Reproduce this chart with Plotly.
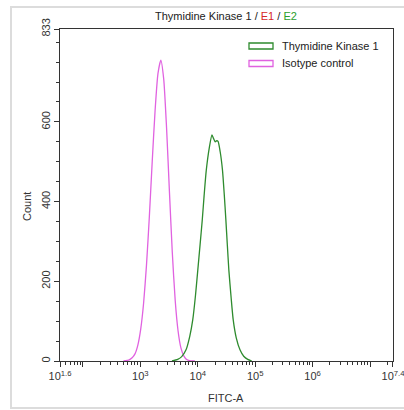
import plotly.graph_objects as go

# ---- data (x as log10 of FITC-A, y as Count) ----
iso_log = [2.706, 2.806, 2.856, 2.906, 2.956, 3.006, 3.056, 3.106, 3.156, 3.206,
           3.256, 3.306, 3.356, 3.406, 3.456, 3.506, 3.556, 3.606, 3.656, 3.706,
           3.756, 3.806, 3.856, 3.906, 3.95]
iso_count = [0, 3, 8, 18, 40, 80, 145, 240, 362, 500,
             628, 721, 755, 708, 585, 425, 272, 153, 76, 33,
             13, 4, 1, 0, 0]

tk_log = [3.55, 3.65, 3.72, 3.795, 3.86, 3.912, 3.96, 4.0, 4.04, 4.078,
          4.11, 4.148, 4.2, 4.247, 4.275, 4.303, 4.33, 4.353, 4.39, 4.43,
          4.46, 4.489, 4.515, 4.541, 4.58, 4.617, 4.67, 4.735, 4.80, 4.87, 4.94]
tk_count = [0, 4, 11, 28, 62, 103, 165, 228, 292, 354,
            415, 479, 535, 567, 558, 550, 553, 551, 525, 479,
            420, 354, 290, 228, 160, 103, 58, 28, 12, 4, 0]

series_names = ["Thymidine Kinase 1", "Isotype control"]
x_tick_exp = [1.6001, 2, 3, 4, 5, 6, 7, 7.3999]
x_tick_text = ["10<sup>1.6</sup>", "", "10<sup>3</sup>", "10<sup>4</sup>",
               "10<sup>5</sup>", "10<sup>6</sup>", "", "10<sup>7.4</sup>"]
y_tick_vals = [0, 200, 400, 600, 833]

GREEN = "#2e8b2e"
MAGENTA = "#e062e0"
FONT = "Liberation Sans, Arial, sans-serif"

W, H = 404, 410
L, R, T, B = 60, 393, 29, 361  # plot area pixels


def px(x):
    return (x - L) / (R - L)


def py(y):
    return (B - y) / (B - T)


fig = go.Figure()
fig.add_trace(go.Scatter(x=[10 ** v for v in iso_log], y=iso_count, mode="lines",
                         line=dict(color=MAGENTA, width=1.3, shape="spline", smoothing=0.6),
                         name=series_names[1], showlegend=False))
fig.add_trace(go.Scatter(x=[10 ** v for v in tk_log], y=tk_count, mode="lines",
                         line=dict(color=GREEN, width=1.3, shape="spline", smoothing=0.6),
                         name=series_names[0], showlegend=False))

minor_x = [m * 10 ** k for k in range(1, 8) for m in range(2, 10)
           if 10 ** 1.6 <= m * 10 ** k <= 10 ** 7.4]

fig.update_layout(
    width=W, height=H,
    margin=dict(l=L, r=W - R, t=T, b=H - B),
    paper_bgcolor="white", plot_bgcolor="white",
    font=dict(family=FONT, size=11, color="#222222"),
    xaxis=dict(type="log", range=[1.6, 7.4], showgrid=False, zeroline=False, automargin=False,
               showline=True, linecolor="#333333", linewidth=1, mirror=True,
               tickmode="array", tickvals=[10 ** e for e in x_tick_exp], ticktext=x_tick_text,
               ticks="outside", ticklen=5, tickcolor="#333333", ticklabeloverflow="allow",
               tickfont=dict(size=11, color="#333333"),
               minor=dict(tickmode="array", tickvals=minor_x, ticks="outside",
                          ticklen=3, tickcolor="#333333")),
    yaxis=dict(range=[0, 833], showgrid=False, zeroline=False, automargin=False,
               showline=True, linecolor="#333333", linewidth=1, mirror=True,
               tickmode="array", tickvals=y_tick_vals, ticktext=[str(v) for v in y_tick_vals],
               tickangle=-90, ticks="outside", ticklen=5, tickcolor="#333333",
               ticklabeloverflow="allow",
               tickfont=dict(size=11, color="#333333"),
               minor=dict(tickmode="linear", tick0=0, dtick=50, ticks="outside",
                          ticklen=3, tickcolor="#333333")),
)

# outer light frame
fig.add_shape(type="rect", xref="paper", yref="paper",
              x0=px(11), x1=px(406), y0=py(408), y1=py(7),
              line=dict(color="#dcdcdc", width=2), fillcolor="rgba(0,0,0,0)", layer="below")

# title
fig.add_annotation(xref="paper", yref="paper", x=px(226), y=py(16), showarrow=False,
                   xanchor="center", yanchor="middle",
                   text="Thymidine Kinase 1 / <span style='color:#d62728'>E1</span> / "
                        "<span style='color:#2ca02c'>E2</span>",
                   font=dict(size=11, color="#222222"))
# axis titles
fig.add_annotation(xref="paper", yref="paper", x=px(226), y=py(398), showarrow=False,
                   xanchor="center", yanchor="middle", text="FITC-A",
                   font=dict(size=11, color="#333333"))
fig.add_annotation(xref="paper", yref="paper", x=px(27), y=py(207), showarrow=False,
                   xanchor="center", yanchor="middle", text="Count", textangle=-90,
                   font=dict(size=11, color="#333333"))

# manual legend with outlined swatches
for name, col, yc in [(series_names[0], GREEN, 46), (series_names[1], MAGENTA, 63.5)]:
    fig.add_shape(type="rect", xref="paper", yref="paper",
                  x0=px(249), x1=px(273), y0=py(yc + 3), y1=py(yc - 3),
                  line=dict(color=col, width=1.3), fillcolor="white")
    fig.add_annotation(xref="paper", yref="paper", x=px(280), y=py(yc), showarrow=False,
                       xanchor="left", yanchor="middle", text=name,
                       font=dict(size=11, color="#222222"))

fig.write_html("out.html", config={"displayModeBar": False},
               post_script="document.body.style.margin='0px';"
                           "document.body.style.overflow='hidden';")
